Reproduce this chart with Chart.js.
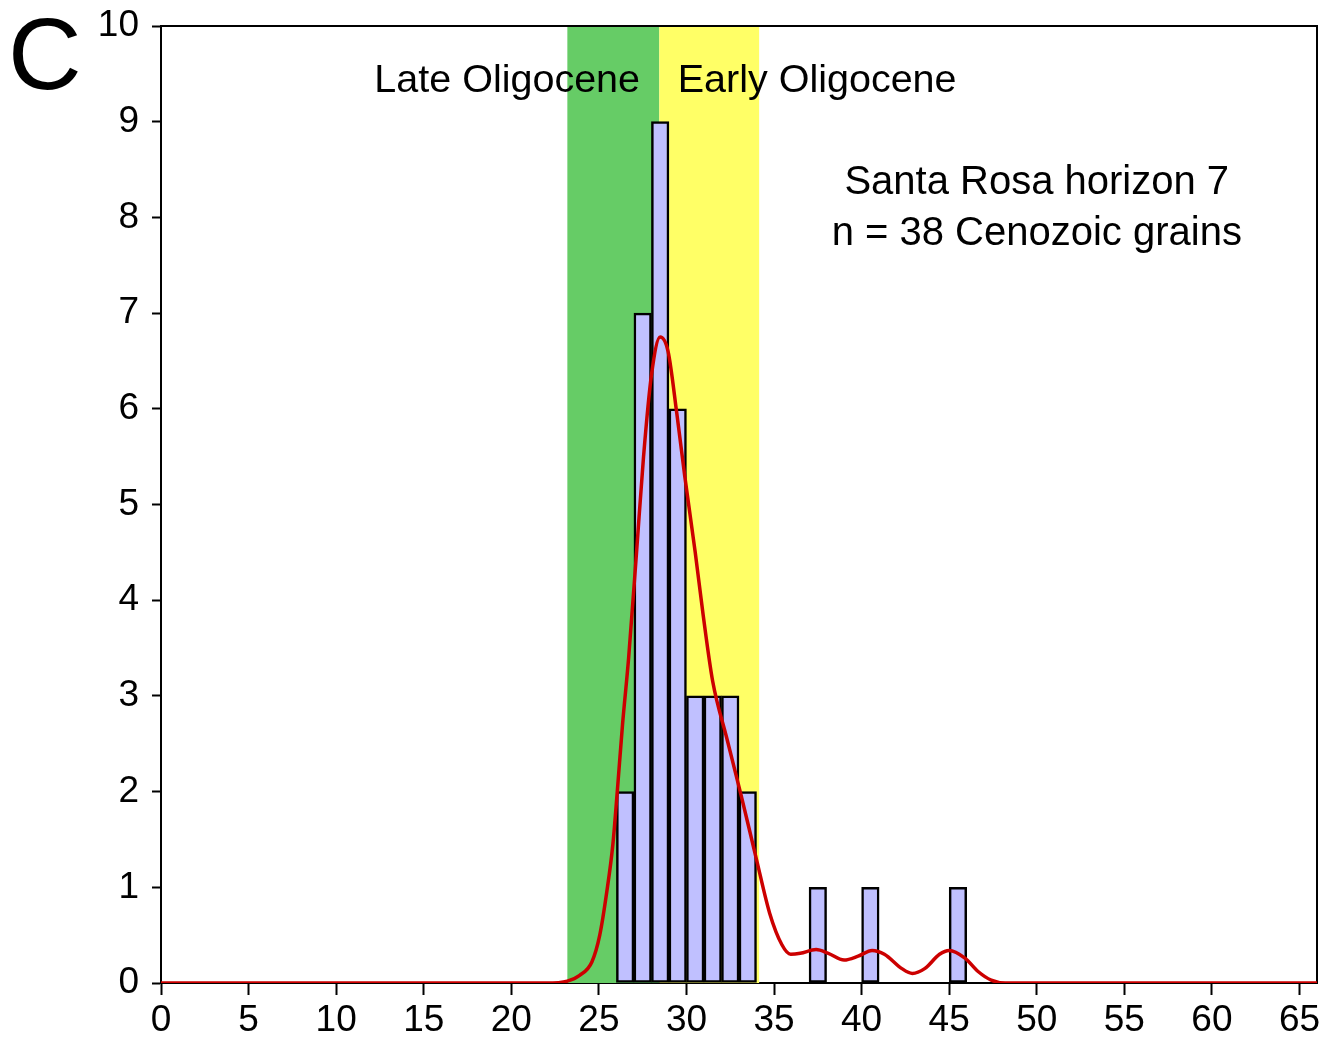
<!DOCTYPE html>
<html>
<head>
<meta charset="utf-8">
<script src="https://cdn.jsdelivr.net/npm/chart.js@4.4.0/dist/chart.umd.min.js"></script>
<style>
  html, body { margin: 0; padding: 0; background: #fff; }
  #wrap { width: 1326px; height: 1047px; }
</style>
</head>
<body>
<div id="wrap"><canvas id="age-chart"></canvas></div>
<script>
// histogram: bin start age (Ma) and number of grains, bins are 1 Ma wide
const binStarts = [26, 27, 28, 29, 30, 31, 32, 33, 37, 40, 45];
const binCounts = [2, 7, 9, 6, 3, 3, 3, 2, 1, 1, 1];

// probability density curve
const curveAges = [0, 22, 23.2, 23.9, 24.6, 25.05, 25.45, 25.8, 26.05, 26.35, 26.7, 27.15, 27.55, 28.0, 28.5,
  28.95, 29.45, 29.9, 30.5, 30.95, 31.5, 32.3, 33.15, 34.0, 34.75, 35.45, 35.95, 36.5, 37.4, 38.1,
  39.0, 39.8, 40.6, 41.3, 42.3, 42.9, 43.6, 44.45, 45.0, 45.9, 46.65, 47.4, 48.2, 66];
const curveValues = [0, 0, 0.02, 0.08, 0.22, 0.5, 0.95, 1.45, 2.0, 2.7, 3.4, 4.5, 5.5, 6.35, 6.75,
  6.6, 5.95, 5.3, 4.5, 3.85, 3.15, 2.56, 1.94, 1.29, 0.73, 0.4, 0.3, 0.31, 0.35, 0.31,
  0.24, 0.28, 0.34, 0.3, 0.15, 0.1, 0.15, 0.3, 0.34, 0.26, 0.12, 0.03, 0, 0];

const xTicks = [0, 5, 10, 15, 20, 25, 30, 35, 40, 45, 50, 55, 60, 65];
const yTicks = [0, 1, 2, 3, 4, 5, 6, 7, 8, 9, 10];

// epoch bands (Ma)
const epochNames = ['Late Oligocene', 'Early Oligocene'];
const epochStarts = [23.2, 28.45];
const epochEnds = [28.45, 34.15];
const epochColors = ['#66CC66', '#FFFF66'];

const panelLetter = 'C';
const sampleLines = ['Santa Rosa horizon 7', 'n = 38 Cenozoic grains'];

const FONT = "'Liberation Sans', Arial, Helvetica, sans-serif";
Chart.defaults.font.family = FONT;
Chart.defaults.color = '#000';

// coloured epoch bands and the box around the plot
const bandsPlugin = {
    id: 'bands',
    beforeDatasetsDraw(chart) {
        const { ctx, chartArea: a, scales: { x } } = chart;
        ctx.save();
        epochStarts.forEach((s, i) => {
            const x0 = x.getPixelForValue(s);
            const x1 = x.getPixelForValue(epochEnds[i]);
            ctx.fillStyle = epochColors[i];
            ctx.fillRect(x0, a.top, x1 - x0, a.bottom - a.top);
        });
        ctx.strokeStyle = '#000';
        ctx.lineWidth = 2;
        ctx.beginPath();
        ctx.moveTo(a.left, a.top);
        ctx.lineTo(a.right, a.top);
        ctx.lineTo(a.right, a.bottom);
        ctx.stroke();
        ctx.restore();
    }
};

// labels drawn on top of the plot
const labelsPlugin = {
    id: 'labels',
    afterDatasetsDraw(chart) {
        const { ctx, scales: { x, y } } = chart;
        ctx.save();
        ctx.fillStyle = '#000';
        ctx.textBaseline = 'alphabetic';

        ctx.font = '102px ' + FONT;
        ctx.textAlign = 'left';
        ctx.fillText(panelLetter, 8, 89);

        ctx.font = '39.5px ' + FONT;
        const epochY = y.getPixelForValue(9.31);
        ctx.textAlign = 'right';
        ctx.fillText(epochNames[0], x.getPixelForValue(27.35), epochY);
        ctx.textAlign = 'left';
        ctx.fillText(epochNames[1], x.getPixelForValue(29.5), epochY);

        ctx.font = '40px ' + FONT;
        ctx.textAlign = 'center';
        const cx = x.getPixelForValue(50);
        ctx.fillText(sampleLines[0], cx, y.getPixelForValue(8.245));
        ctx.fillText(sampleLines[1], cx, y.getPixelForValue(7.715));
        ctx.restore();
    }
};

// keep the plot box where the original has it, labels may hang over
const noPadding = s => { s.paddingTop = 0; s.paddingBottom = 0; s.paddingLeft = 0; s.paddingRight = 0; };

const ctxAges = document.getElementById('age-chart').getContext('2d');
new Chart(ctxAges, {
    type: 'bar',
    data: {
        datasets: [{
            type: 'line',
            data: curveAges.map((a, i) => ({ x: a, y: curveValues[i] })),
            borderColor: '#CC0000',
            borderWidth: 3.5,
            pointRadius: 0,
            cubicInterpolationMode: 'monotone',
            order: 0
        }, {
            type: 'bar',
            data: binStarts.map((b, i) => ({ x: b + 0.5, y: binCounts[i] })),
            backgroundColor: '#C0C0FF',
            borderColor: '#000',
            borderWidth: 2.5,
            borderSkipped: false,
            barPercentage: 1,
            categoryPercentage: 1,
            order: 1
        }]
    },
    options: {
        responsive: true,
        maintainAspectRatio: false,
        animation: false,
        layout: { padding: { left: 0, right: 9, top: 26, bottom: 0 } },
        plugins: {
            legend: { display: false },
            tooltip: { enabled: false }
        },
        scales: {
            x: {
                type: 'linear',
                min: 0,
                max: 66,
                offset: false,
                afterBuildTicks: s => { s.ticks = xTicks.map(v => ({ value: v })); },
                afterFit: s => { s.height = 64; noPadding(s); },
                grid: { offset: false, drawOnChartArea: false, tickLength: 12, tickWidth: 2, tickColor: '#000' },
                border: { color: '#000', width: 2 },
                ticks: { font: { size: 37 }, color: '#000', padding: 4, maxRotation: 0, autoSkip: false }
            },
            y: {
                min: 0,
                max: 10,
                afterBuildTicks: s => { s.ticks = yTicks.map(v => ({ value: v })); },
                afterFit: s => { s.width = 161; noPadding(s); },
                grid: { drawOnChartArea: false, tickLength: 9, tickWidth: 2, tickColor: '#000' },
                border: { color: '#000', width: 2 },
                ticks: { font: { size: 37 }, color: '#000', padding: 13 }
            }
        }
    },
    plugins: [bandsPlugin, labelsPlugin]
});
</script>
</body>
</html>
